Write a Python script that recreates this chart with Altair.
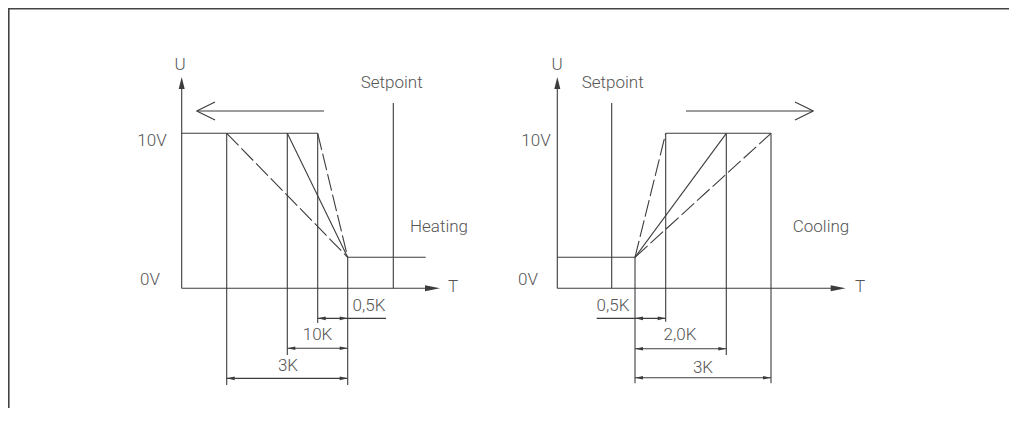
import altair as alt
import pandas as pd

# Diagram units: x = horizontal diagram position, y = output voltage U in volts
W, H = 1001, 400
X_DOMAIN = [8, 1009]
PX_PER_V = 15.5
Y_TOP = 18.084
Y_DOMAIN = [Y_TOP - H / PX_PER_V, Y_TOP]

# ---- Heating panel segments (x1, y1, x2, y2) ----
heating_solid = [
    (181.7, 0, 181.7, 13.0),      # U axis
    (181.7, 0, 428.0, 0),         # T axis
    (181.7, 10, 317.7, 10),       # 10 V level
    (347.7, 2, 425.7, 2),         # low level
    (393.3, 11.95, 393.3, 0),     # setpoint
    (226.7, 10, 226.7, -6.24),    # 3K extension
    (287.3, 10, 287.3, -4.3),     # 10K extension
    (317.7, 10, 317.7, -2.24),    # 0,5K extension
    (347.7, 2, 347.7, -6.24),     # knee extension
    (287.3, 10, 347.7, 2),        # solid ramp
    (317.7, -1.94, 386.0, -1.94), # 0,5K dimension
    (287.3, -3.87, 347.7, -3.87), # 10K dimension
    (226.7, -5.81, 347.7, -5.81), # 3K dimension
    (196.7, 11.44, 324.0, 11.44), # direction arrow shaft
    (196.7, 11.44, 215.0, 12.02), # direction arrow head
    (196.7, 11.44, 215.0, 10.86),
]
heating_dashed = [
    (226.7, 10, 347.7, 2),
    (317.7, 10, 347.7, 2),
]

# ---- Cooling panel segments ----
cooling_solid = [
    (557.3, 0, 557.3, 13.0),
    (557.3, 0, 834.0, 0),
    (557.3, 2, 635.0, 2),
    (665.7, 10, 771.0, 10),
    (611.7, 11.95, 611.7, 0),
    (635.0, 2, 635.0, -6.13),
    (665.7, 10, 665.7, -2.15),
    (726.3, 10, 726.3, -4.3),
    (771.0, 10, 771.0, -6.13),
    (635.0, 2, 726.3, 10),
    (596.7, -1.94, 665.7, -1.94),
    (635.0, -3.9, 726.3, -3.9),
    (635.0, -5.77, 771.0, -5.77),
    (686.0, 11.44, 813.3, 11.44),
    (813.3, 11.44, 795.0, 12.02),
    (813.3, 11.44, 795.0, 10.86),
]
cooling_dashed = [
    (635.0, 2, 665.7, 10),
    (635.0, 2, 771.0, 10),
]

# ---- Frame (top edge and left edge of the figure box) ----
frame = [
    (8.0, Y_TOP - 0.05, 1009.0, Y_TOP - 0.05),
    (8.8, Y_TOP, 8.8, Y_TOP - H / PX_PER_V),
]

# ---- Arrow tips ----
t_axis_tips = [(440.0, 0), (845.7, 0)]
u_axis_tips = [(181.7, 13.63), (557.3, 13.63)]
dim_left_tips = [(317.7, -1.94), (287.3, -3.87), (226.7, -5.81),
                 (635.0, -1.94), (635.0, -3.9), (635.0, -5.77)]
dim_right_tips = [(347.7, -1.94), (347.7, -3.87), (347.7, -5.81),
                  (665.7, -1.94), (726.3, -3.9), (771.0, -5.77)]

# ---- Labels ----
label_text = ["U", "Setpoint", "10V", "0V", "Heating", "T", "0,5K", "10K", "3K",
              "U", "Setpoint", "10V", "0V", "Cooling", "T", "0,5K", "2,0K", "3K"]
label_x = [180, 391.7, 152, 150, 439, 453, 369, 317.5, 288,
           557, 612.7, 536, 528, 821, 860, 613, 680, 703]
label_y = [14.41, 13.25, 9.5, 0.54, 3.95, 0.08, -1.17, -3.01, -5.01,
           14.41, 13.25, 9.5, 0.54, 3.95, 0.08, -1.17, -3.01, -5.14]

LINE = "#3c3c3c"
TEXT = "#555555"
FONT = "Roboto"

xs = alt.Scale(domain=X_DOMAIN, range=[0, W], nice=False, zero=False)
ys = alt.Scale(domain=Y_DOMAIN, nice=False, zero=False)
noax = None


def seg_df(segs):
    return pd.DataFrame(segs, columns=["x1", "y1", "x2", "y2"])


def pt_df(pts):
    return pd.DataFrame(pts, columns=["x", "y"])


def rules(df, dash=None, width=1.0, color=LINE):
    kw = dict(color=color, strokeWidth=width)
    if dash:
        kw["strokeDash"] = dash
    return alt.Chart(df).mark_rule(**kw).encode(
        x=alt.X("x1:Q", scale=xs, axis=noax),
        y=alt.Y("y1:Q", scale=ys, axis=noax),
        x2="x2:Q",
        y2="y2:Q",
    )


def tips(df, shape, size):
    return alt.Chart(df).mark_point(
        shape=shape, size=size, filled=True, color=LINE, opacity=1, strokeWidth=0
    ).encode(
        x=alt.X("x:Q", scale=xs, axis=noax),
        y=alt.Y("y:Q", scale=ys, axis=noax),
    )


solid = seg_df(heating_solid + cooling_solid)
dashed = seg_df(heating_dashed + cooling_dashed)

labels = pd.DataFrame({"x": label_x, "y": label_y, "text": label_text})
text_layer = alt.Chart(labels).mark_text(
    font=FONT, fontSize=17, fontWeight=300, color=TEXT, align="center", baseline="middle"
).encode(
    x=alt.X("x:Q", scale=xs, axis=noax),
    y=alt.Y("y:Q", scale=ys, axis=noax),
    text="text:N",
)

chart = alt.layer(
    rules(seg_df(frame), width=1.6, color="#444"),
    rules(solid, width=1.1),
    rules(dashed, dash=[17, 4], width=1.1),
    tips(pt_df(t_axis_tips), "M0,0L-15,-3L-15,3Z", 4),
    tips(pt_df(u_axis_tips), "M0,0L-3,12L3,12Z", 4),
    tips(pt_df(dim_left_tips), "M0,0L4,-0.9L4,0.9Z", 16),
    tips(pt_df(dim_right_tips), "M0,0L-4,-0.9L-4,0.9Z", 16),
    text_layer,
).properties(
    width=W, height=H, padding=0, autosize=alt.AutoSizeParams(type="none"),
    background="white",
).configure_view(stroke="transparent", strokeWidth=0)

chart.save("out.html", embed_options={"renderer": "svg", "actions": False})
